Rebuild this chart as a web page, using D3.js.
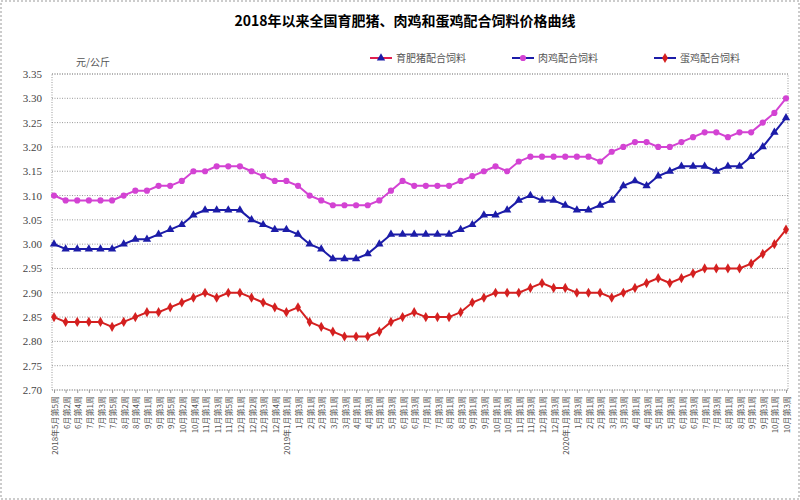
<!DOCTYPE html>
<html><head><meta charset="utf-8">
<script src="https://cdn.jsdelivr.net/npm/d3@7"></script>
<style>body{margin:0;background:#fff}svg{display:block}</style>
</head><body>
<svg id="chart" width="800" height="500"></svg>
<script>
const labels = [
  "2018年5月第5周","6月第2周","6月第4周","7月第1周","7月第3周","7月第5周","8月第2周","8月第4周","9月第1周","9月第3周",
  "9月第5周","10月第2周","10月第4周","11月第1周","11月第3周","11月第5周","12月第1周","12月第2周","12月第3周","12月第4周",
  "2019年1月第1周","1月第3周","2月第1周","2月第3周","3月第1周","3月第3周","4月第1周","4月第3周","5月第1周","5月第3周",
  "6月第1周","6月第3周","7月第1周","7月第3周","8月第1周","8月第3周","9月第1周","9月第3周","10月第1周","10月第3周",
  "11月第1周","11月第3周","12月第1周","12月第3周",
  "2020年1月第1周","1月第3周","2月第1周","2月第3周","3月第1周","3月第3周","4月第1周","4月第3周","5月第1周","5月第3周",
  "6月第1周","6月第3周","7月第1周","7月第3周","8月第1周","8月第3周","9月第1周","9月第3周","10月第1周","10月第3周"
];
const pig = [3.00,2.99,2.99,2.99,2.99,2.99,3.00,3.01,3.01,3.02, 3.03,3.04,3.06,3.07,3.07,3.07,3.07,3.05,3.04,3.03,
  3.03,3.02,3.00,2.99,2.97,2.97,2.97,2.98,3.00,3.02, 3.02,3.02,3.02,3.02,3.02,3.03,3.04,3.06,3.06,3.07,
  3.09,3.10,3.09,3.09,3.08,3.07,3.07,3.08,3.09,3.12, 3.13,3.12,3.14,3.15,3.16,3.16,3.16,3.15,3.16,3.16,
  3.18,3.20,3.23,3.26];
const broiler = [3.10,3.09,3.09,3.09,3.09,3.09,3.10,3.11,3.11,3.12, 3.12,3.13,3.15,3.15,3.16,3.16,3.16,3.15,3.14,3.13,
  3.13,3.12,3.10,3.09,3.08,3.08,3.08,3.08,3.09,3.11, 3.13,3.12,3.12,3.12,3.12,3.13,3.14,3.15,3.16,3.15,
  3.17,3.18,3.18,3.18,3.18,3.18,3.18,3.17,3.19,3.20, 3.21,3.21,3.20,3.20,3.21,3.22,3.23,3.23,3.22,3.23,
  3.23,3.25,3.27,3.30];
const egg = [2.85,2.84,2.84,2.84,2.84,2.83,2.84,2.85,2.86,2.86, 2.87,2.88,2.89,2.90,2.89,2.90,2.90,2.89,2.88,2.87,
  2.86,2.87,2.84,2.83,2.82,2.81,2.81,2.81,2.82,2.84, 2.85,2.86,2.85,2.85,2.85,2.86,2.88,2.89,2.90,2.90,
  2.90,2.91,2.92,2.91,2.91,2.90,2.90,2.90,2.89,2.90, 2.91,2.92,2.93,2.92,2.93,2.94,2.95,2.95,2.95,2.95,
  2.96,2.98,3.00,3.03];
const seriesNames = ["育肥猪配合饲料","肉鸡配合饲料","蛋鸡配合饲料"];
const yTicks = d3.range(2.70, 3.351, 0.05);

const svg = d3.select("#chart");
const W = 800, H = 500;
const m = {left: 52, right: 12, top: 74, bottom: 110};
const font = "'Liberation Serif','Noto Sans CJK SC',serif";

svg.append("rect").attr("x", 1).attr("y", 1).attr("width", W - 2).attr("height", H - 2)
  .attr("fill", "#fff").attr("stroke", "#999").attr("stroke-dasharray", "2,2");

svg.append("text").attr("x", 405).attr("y", 26).attr("text-anchor", "middle")
  .attr("font-family", "'Noto Sans CJK SC',sans-serif").attr("font-weight", "bold").attr("font-size", 14)
  .text("2018年以来全国育肥猪、肉鸡和蛋鸡配合饲料价格曲线");

const x = d3.scalePoint().domain(d3.range(labels.length)).range([m.left + 2, W - m.right - 2]);
const y = d3.scaleLinear().domain([2.70, 3.35]).range([H - m.bottom, m.top]);

// grid
svg.append("g").selectAll("line").data(yTicks).enter().append("line")
  .attr("x1", m.left).attr("x2", W - m.right)
  .attr("y1", d => y(d)).attr("y2", d => y(d))
  .attr("stroke", "#999").attr("stroke-dasharray", "1,1.5");
svg.append("rect").attr("x", m.left).attr("y", m.top)
  .attr("width", W - m.left - m.right).attr("height", H - m.top - m.bottom)
  .attr("fill", "none").attr("stroke", "#999").attr("stroke-dasharray", "1,1.5");

// y axis
const yAxis = svg.append("g").attr("transform", `translate(${m.left},0)`)
  .call(d3.axisLeft(y).tickValues(yTicks).tickFormat(d3.format(".2f")).tickSize(0).tickPadding(10));
yAxis.select(".domain").remove();
yAxis.selectAll("text").attr("font-family", font).attr("font-size", 11).attr("fill", "#444");

// x axis
const xAxis = svg.append("g").attr("transform", `translate(0,${H - m.bottom})`)
  .call(d3.axisBottom(x).tickFormat(i => labels[i]).tickSize(3));
xAxis.select(".domain").remove();
xAxis.selectAll("line").attr("stroke", "#999");
xAxis.selectAll("text").attr("font-family", "'Noto Sans CJK SC',sans-serif").attr("font-size", 8).attr("fill", "#555")
  .attr("transform", "rotate(-90)").attr("text-anchor", "end").attr("dx", "-6").attr("dy", "-0.3em");

svg.append("text").attr("x", 76).attr("y", 66).attr("font-family", "'Noto Sans CJK SC',sans-serif")
  .attr("font-size", 10).attr("fill", "#555").text("元/公斤");

const series = [
  {name: seriesNames[0], values: pig, color: "#1c1ca8", sym: d3.symbolTriangle},
  {name: seriesNames[1], values: broiler, color: "#d343d3", sym: d3.symbolCircle},
  {name: seriesNames[2], values: egg, color: "#d42020", sym: d3.symbolDiamond}
];
const line = d3.line().x((d, i) => x(i)).y(d => y(d));
series.forEach(s => {
  const g = svg.append("g");
  g.append("path").datum(s.values).attr("d", line).attr("fill", "none")
    .attr("stroke", s.color).attr("stroke-width", 2);
  g.selectAll("path.m").data(s.values).enter().append("path").attr("class", "m")
    .attr("transform", (d, i) => `translate(${x(i)},${y(d)})`)
    .attr("d", d3.symbol().type(s.sym).size(30)).attr("fill", s.color);
});

// legend
const lg = svg.append("g").selectAll("g").data(series).enter().append("g")
  .attr("transform", (d, i) => `translate(${370 + i * 142},58)`);
lg.append("line").attr("x1", 0).attr("x2", 22).attr("stroke", (d, i) => i === 0 ? "#e02050" : "#1c1ca8").attr("stroke-width", 2);
lg.append("path").attr("transform", "translate(11,0)").attr("d", d => d3.symbol().type(d.sym).size(30)())
  .attr("fill", d => d.color);
lg.append("text").attr("x", 26).attr("y", 4).attr("font-family", "'Noto Sans CJK SC',sans-serif")
  .attr("font-size", 10).attr("fill", "#555").text(d => d.name);
</script>
</body></html>
